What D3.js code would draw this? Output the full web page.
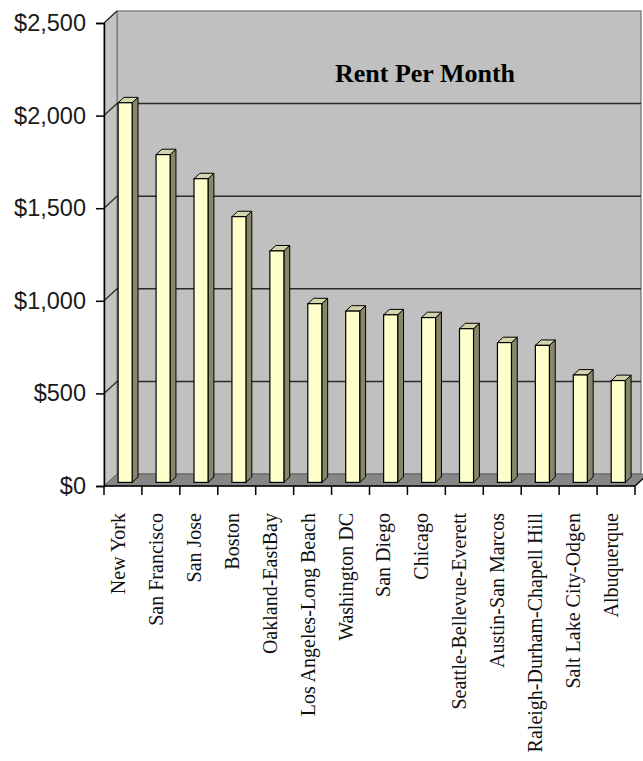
<!DOCTYPE html>
<html>
<head>
<meta charset="utf-8">
<script src="https://cdn.jsdelivr.net/npm/d3@7"></script>
<style>
  html, body { margin: 0; padding: 0; background: #ffffff; }
  svg { display: block; }
</style>
</head>
<body>
<svg id="chart" width="643" height="761"></svg>
<script>
// Monthly rent by metro area
const categories = [
  "New York", "San Francisco", "San Jose", "Boston", "Oakland-EastBay",
  "Los Angeles-Long Beach", "Washington DC", "San Diego", "Chicago",
  "Seattle-Bellevue-Everett", "Austin-San Marcos", "Raleigh-Durham-Chapell Hill",
  "Salt Lake City-Odgen", "Albuquerque"
];
const rents = [2050, 1770, 1640, 1435, 1250, 965, 925, 905, 890, 830, 755, 740, 580, 550];
const yTicks = [0, 500, 1000, 1500, 2000, 2500];
const chartTitle = "Rent Per Month";

const svg = d3.select("#chart");

// Front plane of the 3-D box and its oblique depth offset
const plotLeft = 104, plotRight = 635, plotBottom = 486, plotTop = 23;
const depthX = 13, depthY = -12;
const backRight = 641;

const x = d3.scaleBand().domain(categories).range([plotLeft, plotRight]).padding(0);
const y = d3.scaleLinear().domain([0, 2500]).range([plotBottom, plotTop]);

// Back wall
svg.append("rect")
  .attr("x", plotLeft + depthX).attr("y", plotTop + depthY)
  .attr("width", backRight - (plotLeft + depthX))
  .attr("height", plotBottom - plotTop)
  .attr("fill", "#c0c0c0")
  .attr("stroke", "#6e6e6e").attr("stroke-width", 1.2);

// Side wall
svg.append("path")
  .attr("d", `M${plotLeft},${plotTop} L${plotLeft + depthX},${plotTop + depthY} L${plotLeft + depthX},${plotBottom + depthY} L${plotLeft},${plotBottom} Z`)
  .attr("fill", "#c4c4c4")
  .attr("stroke", "#6e6e6e").attr("stroke-width", 1);

// Gridlines on back and side walls
const grid = yTicks.filter(v => v > 0 && v < 2500);
svg.append("g").selectAll("line")
  .data(grid).join("line")
  .attr("x1", plotLeft + depthX).attr("x2", backRight)
  .attr("y1", d => y(d) + depthY).attr("y2", d => y(d) + depthY)
  .attr("stroke", "#2a2a2a").attr("stroke-width", 1.5);
svg.append("g").selectAll("line")
  .data(yTicks.filter(v => v > 0)).join("line")
  .attr("x1", plotLeft).attr("x2", plotLeft + depthX)
  .attr("y1", d => y(d)).attr("y2", d => y(d) + depthY)
  .attr("stroke", "#2a2a2a").attr("stroke-width", 1.3);

// Floor
svg.append("path")
  .attr("d", `M${plotLeft},${plotBottom} L${plotLeft + depthX},${plotBottom + depthY} L${plotRight + depthX},${plotBottom + depthY} L${plotRight},${plotBottom} Z`)
  .attr("fill", "#878787")
  .attr("stroke", "#5a5a5a").attr("stroke-width", 0.8);

// Columns: front, side and top faces
const tFront = 0.3, tBack = 0.75;
const bw = x.bandwidth() * 0.37;
const bx = d => x(d.c) + x.bandwidth() * 0.27;
const data = categories.map((c, i) => ({ c, v: rents[i] }));

svg.append("g").selectAll("g").data(data).join("g")
  .each(function (d) {
    const g = d3.select(this);
    const x0 = bx(d) + tFront * depthX, x1 = x0 + bw;
    const yb = y(0) + tFront * depthY, yt = y(d.v) + tFront * depthY;
    const ddx = (tBack - tFront) * depthX, ddy = (tBack - tFront) * depthY;
    // side face
    g.append("path")
      .attr("d", `M${x1},${yb} L${x1 + ddx},${yb + ddy} L${x1 + ddx},${yt + ddy} L${x1},${yt} Z`)
      .attr("fill", "#86866a").attr("stroke", "#000").attr("stroke-width", 1).attr("stroke-linejoin", "round");
    // top face
    g.append("path")
      .attr("d", `M${x0},${yt} L${x0 + ddx},${yt + ddy} L${x1 + ddx},${yt + ddy} L${x1},${yt} Z`)
      .attr("fill", "#d4d4ac").attr("stroke", "#000").attr("stroke-width", 1).attr("stroke-linejoin", "round");
    // front face
    g.append("rect")
      .attr("x", x0).attr("y", yt).attr("width", bw).attr("height", yb - yt)
      .attr("fill", "#ffffcc").attr("stroke", "#000").attr("stroke-width", 1.2);
  });

// Value axis
const yAxis = svg.append("g")
  .attr("transform", `translate(${plotLeft},0)`)
  .call(d3.axisLeft(y).tickValues(yTicks).tickFormat(d3.format("$,")).tickSize(8).tickPadding(10));
yAxis.select(".domain").attr("stroke", "#000").attr("stroke-width", 1.5);
yAxis.selectAll(".tick line").attr("stroke", "#000").attr("stroke-width", 1.5);
yAxis.selectAll(".tick text")
  .attr("font-family", "'Liberation Sans', Arial, sans-serif")
  .attr("font-size", 23.5).attr("fill", "#1a1a1a");

// Category axis line and boundary ticks
svg.append("line")
  .attr("x1", plotLeft).attr("x2", plotRight).attr("y1", plotBottom).attr("y2", plotBottom)
  .attr("stroke", "#000").attr("stroke-width", 1.5);
svg.append("g").selectAll("line")
  .data(categories.map(c => x(c)).concat([plotRight])).join("line")
  .attr("x1", d => d).attr("x2", d => d)
  .attr("y1", plotBottom).attr("y2", plotBottom + 9)
  .attr("stroke", "#000").attr("stroke-width", 1.5);
// right front edge of the floor
svg.append("line")
  .attr("x1", plotRight).attr("y1", plotBottom).attr("x2", plotRight + depthX).attr("y2", plotBottom + depthY)
  .attr("stroke", "#000").attr("stroke-width", 1.2);

// Category labels, rotated
svg.append("g").selectAll("text")
  .data(categories).join("text")
  .attr("transform", c => `translate(${x(c) + x.bandwidth() / 2 + 2},${513}) rotate(-90)`)
  .attr("text-anchor", "end")
  .attr("font-family", "'Liberation Serif', 'Times New Roman', serif")
  .attr("font-size", 20).attr("fill", "#111")
  .text(c => c);

// Title inside the plot
svg.append("text")
  .attr("x", 425).attr("y", 82)
  .attr("text-anchor", "middle")
  .attr("font-family", "'Liberation Serif', 'Times New Roman', serif")
  .attr("font-weight", "bold").attr("font-size", 26).attr("fill", "#000")
  .text(chartTitle);
</script>
</body>
</html>
